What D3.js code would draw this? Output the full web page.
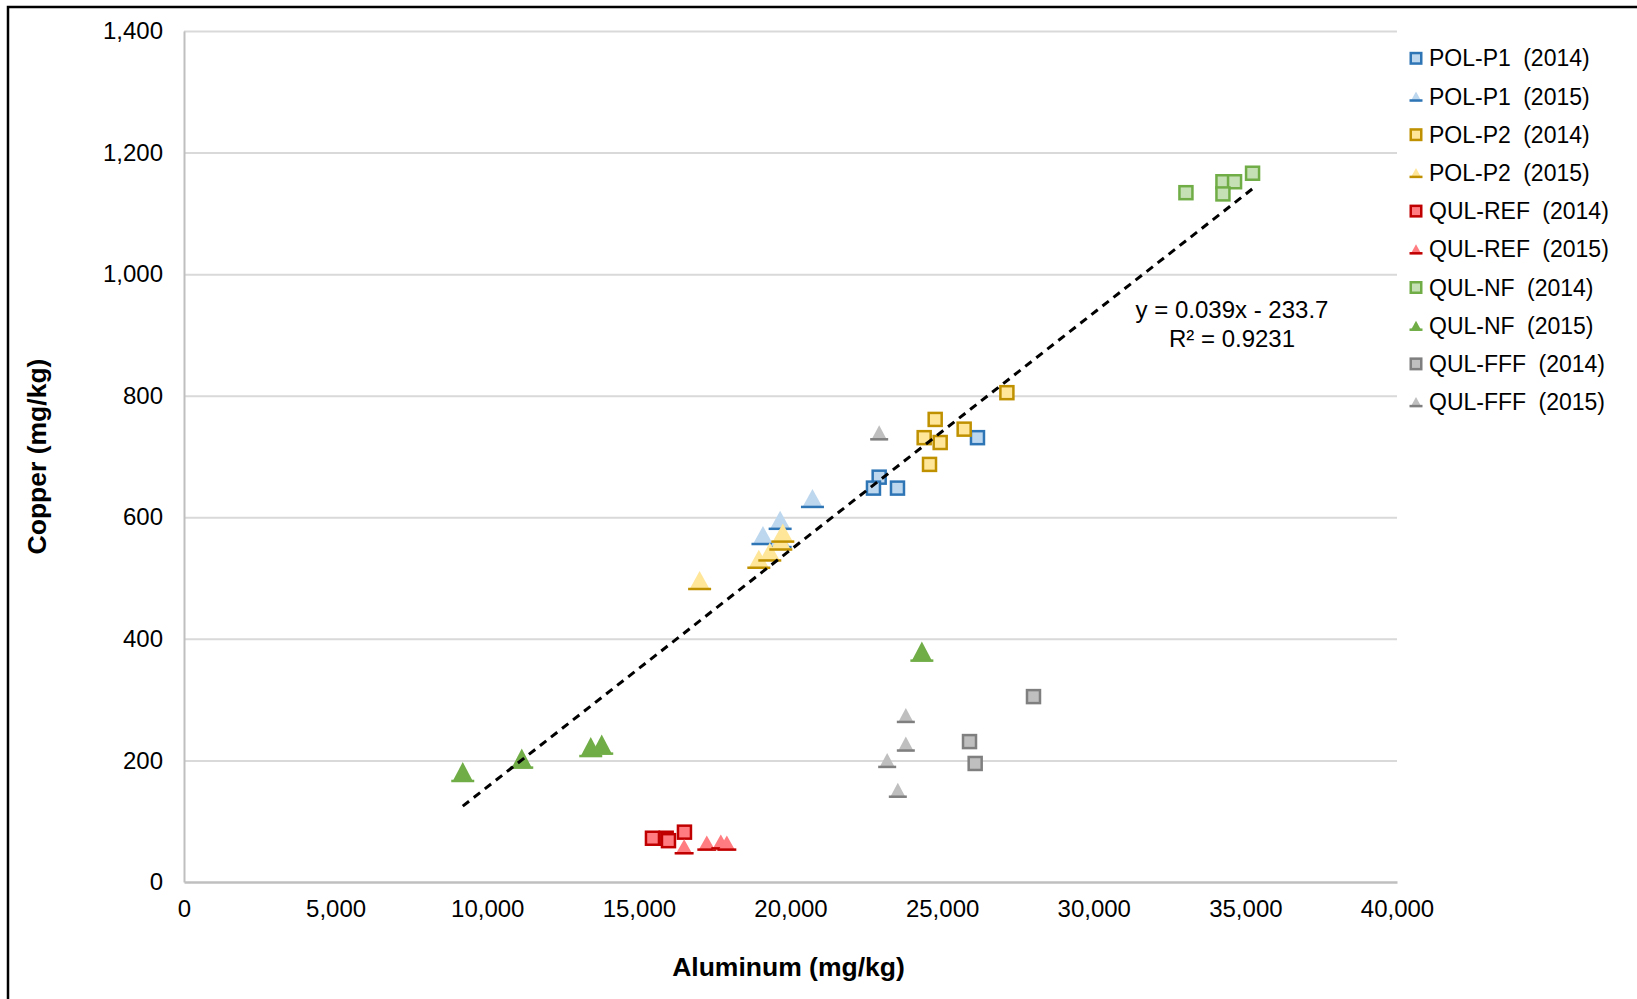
<!DOCTYPE html>
<html>
<head>
<meta charset="utf-8">
<script src="https://cdn.jsdelivr.net/npm/d3@7"></script>
<style>
  html, body { margin: 0; padding: 0; background: #fff; }
  svg { display: block; font-family: "Liberation Sans", Arial, sans-serif; }
</style>
</head>
<body>
<svg id="chart" width="1637" height="999"></svg>
<script>
// ---------------- Data ----------------
const seriesNames = [
  "POL-P1 (2014)", "POL-P1 (2015)", "POL-P2 (2014)", "POL-P2 (2015)",
  "QUL-REF (2014)", "QUL-REF (2015)", "QUL-NF (2014)", "QUL-NF (2015)",
  "QUL-FFF (2014)", "QUL-FFF (2015)"
];

const polP1_2014_al = [22924, 22736, 23528, 26166];
const polP1_2014_cu = [666, 648, 648, 731];

const polP1_2015_al = [20724, 19658, 19092, 19658];
const polP1_2015_cu = [631, 595, 570, 565];

const polP2_2014_al = [27136, 24771, 24408, 24936, 25727, 24584];
const polP2_2014_cu = [805, 761, 731, 723, 745, 687];

const polP2_2015_al = [17003, 18955, 19317, 19680, 19746];
const polP2_2015_cu = [496, 531, 543, 561, 574];

const qulRef_2014_al = [15448, 15900, 15976, 16503];
const qulRef_2014_cu = [72, 72, 68, 82];

const qulRef_2015_al = [16492, 17240, 17702, 17900];
const qulRef_2015_cu = [58, 64, 66, 64];

const qulNf_2014_al = [33040, 34260, 34643, 34260, 35237];
const qulNf_2014_cu = [1134, 1152, 1152, 1132, 1166];

const qulNf_2015_al = [9192, 11138, 13413, 13775, 24332];
const qulNf_2015_cu = [181, 203, 222, 226, 379];

const qulFff_2014_al = [28013, 25903, 26090];
const qulFff_2014_cu = [305, 231, 195];

const qulFff_2015_al = [22924, 23803, 23803, 23188, 23539];
const qulFff_2015_cu = [739, 274, 227, 200, 151];

const xTicks = [0, 5000, 10000, 15000, 20000, 25000, 30000, 35000, 40000];
const yTicks = [0, 200, 400, 600, 800, 1000, 1200, 1400];

const trendSlope = 0.039;
const trendIntercept = -233.7;
const trendLabel1 = "y = 0.039x - 233.7";
const trendLabel2 = "R² = 0.9231";

const xTitle = "Aluminum (mg/kg)";
const yTitle = "Copper (mg/kg)";

// ---------------- Styles ----------------
const styles = [
  {shape: "square",   fill: "#bdd7ee", stroke: "#2e75b6"},
  {shape: "triangle", fill: "#bdd7ee", stroke: "#2e75b6", w: 21, h: 19},
  {shape: "square",   fill: "#ffe699", stroke: "#bf9000"},
  {shape: "triangle", fill: "#ffe699", stroke: "#bf9000", w: 21, h: 19},
  {shape: "square",   fill: "#ff7c80", stroke: "#c00000"},
  {shape: "triangle", fill: "#ff7c80", stroke: "#c00000", w: 17, h: 15},
  {shape: "square",   fill: "#c5e0b4", stroke: "#70ad47"},
  {shape: "triangle", fill: "#70ad47", stroke: "#70ad47", w: 21, h: 20},
  {shape: "square",   fill: "#bfbfbf", stroke: "#7f7f7f"},
  {shape: "triangle", fill: "#bfbfbf", stroke: "#7f7f7f", w: 16, h: 15}
];

const seriesData = [
  [polP1_2014_al, polP1_2014_cu], [polP1_2015_al, polP1_2015_cu],
  [polP2_2014_al, polP2_2014_cu], [polP2_2015_al, polP2_2015_cu],
  [qulRef_2014_al, qulRef_2014_cu], [qulRef_2015_al, qulRef_2015_cu],
  [qulNf_2014_al, qulNf_2014_cu], [qulNf_2015_al, qulNf_2015_cu],
  [qulFff_2014_al, qulFff_2014_cu], [qulFff_2015_al, qulFff_2015_cu]
].map(([xs, ys]) => xs.map((v, i) => ({al: v, cu: ys[i]})));

// ---------------- Chart ----------------
(function () {
const svg = d3.select("#chart");
const pLeft = 184, pRight = 1397, pTop = 31, pBottom = 882;

const x = d3.scaleLinear().domain([0, 40000]).range([pLeft, pRight]);
const y = d3.scaleLinear().domain([0, 1400]).range([pBottom, pTop]);

// outer frame
svg.append("rect").attr("x", 8).attr("y", 7).attr("width", 1700).attr("height", 1100)
  .attr("fill", "none").attr("stroke", "#000").attr("stroke-width", 2.5);

// gridlines
const grid = svg.append("g").attr("transform", `translate(${pLeft},0)`)
  .call(d3.axisLeft(y).tickValues(yTicks.filter(d => d > 0)).tickSize(-(pRight - pLeft)).tickFormat(""));
grid.select(".domain").remove();
grid.selectAll("line").attr("stroke", "#d9d9d9").attr("stroke-width", 2);

// y axis
const yAxis = svg.append("g").attr("transform", `translate(${pLeft},0)`)
  .call(d3.axisLeft(y).tickValues(yTicks).tickSize(0).tickPadding(21).tickFormat(d3.format(",")));
yAxis.select(".domain").attr("stroke", "#bfbfbf").attr("stroke-width", 2);
yAxis.selectAll("text").attr("font-size", 24).attr("fill", "#000")
  .attr("font-family", "Liberation Sans, Arial, sans-serif");

// x axis
const xAxis = svg.append("g").attr("transform", `translate(0,${pBottom})`)
  .call(d3.axisBottom(x).tickValues(xTicks).tickSize(0).tickPadding(18).tickFormat(d3.format(",")));
xAxis.select(".domain").attr("stroke", "#bfbfbf").attr("stroke-width", 2.5);
xAxis.selectAll("text").attr("font-size", 24).attr("fill", "#000")
  .attr("font-family", "Liberation Sans, Arial, sans-serif");

// axis titles
svg.append("text").attr("x", (pLeft + pRight) / 2 - 2).attr("y", 976)
  .attr("text-anchor", "middle").attr("font-size", 26.5).attr("font-weight", "bold")
  .text(xTitle);
svg.append("text").attr("transform", `translate(46,${(pTop + pBottom) / 2}) rotate(-90)`)
  .attr("text-anchor", "middle").attr("font-size", 26.5).attr("font-weight", "bold")
  .text(yTitle);

// marker drawing
function drawMarker(g, st, cx, cy, legend) {
  if (st.shape === "square") {
    const s = legend ? 10.5 : 13;
    g.append("rect").attr("x", cx - s / 2).attr("y", cy - s / 2)
      .attr("width", s).attr("height", s)
      .attr("fill", st.fill).attr("stroke", st.stroke).attr("stroke-width", 2.5);
  } else {
    const w = legend ? 11 : st.w, h = legend ? 10 : st.h;
    g.append("path")
      .attr("d", `M${cx - w / 2},${cy + h / 2} L${cx},${cy - h / 2} L${cx + w / 2},${cy + h / 2} Z`)
      .attr("fill", st.fill);
    g.append("line")
      .attr("x1", cx - w / 2 - 1).attr("x2", cx + w / 2 + 1)
      .attr("y1", cy + h / 2 - 1).attr("y2", cy + h / 2 - 1)
      .attr("stroke", st.stroke).attr("stroke-width", 2.5);
  }
}

// points
const pts = svg.append("g");
seriesData.forEach((data, si) => {
  const g = pts.append("g");
  data.forEach(d => drawMarker(g, styles[si], x(d.al), y(d.cu), false));
});

// trendline over the full data range
const allAl = seriesData.flat().map(d => d.al);
const [xMin, xMax] = d3.extent(allAl);
const trend = [xMin, xMax].map(v => ({al: v, cu: trendSlope * v + trendIntercept}));
svg.append("path")
  .attr("d", d3.line().x(d => x(d.al)).y(d => y(d.cu))(trend))
  .attr("fill", "none").attr("stroke", "#000").attr("stroke-width", 3)
  .attr("stroke-dasharray", "8,6");

svg.append("text").attr("x", 1232).attr("y", 318).attr("text-anchor", "middle")
  .attr("font-size", 24).text(trendLabel1);
svg.append("text").attr("x", 1232).attr("y", 347).attr("text-anchor", "middle")
  .attr("font-size", 24).text(trendLabel2);

// legend
const legend = svg.append("g");
seriesNames.forEach((name, i) => {
  const cy = 58.3 + i * 38.2;
  const g = legend.append("g");
  drawMarker(g, styles[i], 1416, cy, true);
  g.append("text").attr("x", 1429).attr("y", cy).attr("dy", "0.35em")
    .attr("font-size", 23).attr("word-spacing", 6).attr("fill", "#000").text(name);
});
})();
</script>
</body>
</html>
